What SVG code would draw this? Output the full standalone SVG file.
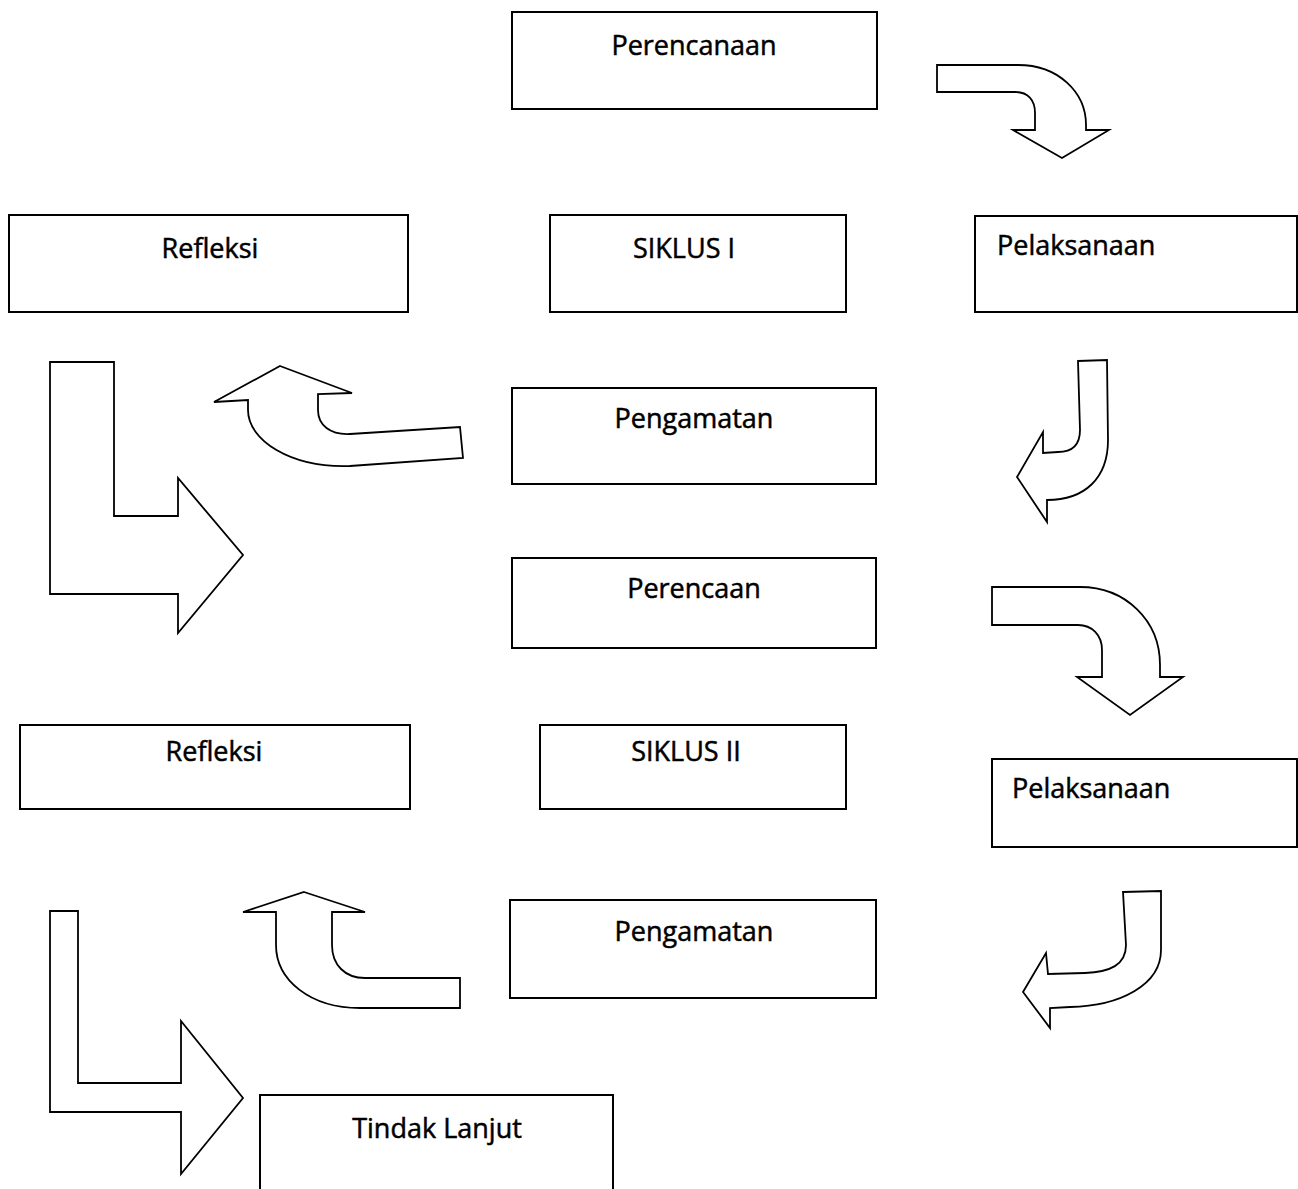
<svg xmlns="http://www.w3.org/2000/svg" width="1298" height="1189" viewBox="0 0 1298 1189">
<style>
.box{fill:#fff;stroke:#000;stroke-width:2}
.arr{fill:#fff;stroke:#000;stroke-width:1.8;stroke-linejoin:miter}
.t{font-family:"Open Sans","Noto Sans",sans-serif;font-size:27px;fill:#000;stroke:#000;stroke-width:0.5}
.c{text-anchor:middle}
</style>
<rect width="1298" height="1189" fill="#fff"/>
<g id="connectors">
<path class="arr" d="M937,65 L1018,65 C1058,65 1086,92 1086,125 L1086,130 L1109,130 L1062,158 L1013,130 L1035,130 L1035,113 C1035,100 1028,92 1015,92 L937,92 Z"/>
<path class="arr" d="M1078,361 L1107,360 L1108,440 C1108,478 1085,500 1047,500 L1047,522 L1017,477 L1043,432 L1043,453 L1058,452 C1072,452 1080,445 1080,430 Z"/>
<path class="arr" d="M280,366 L352,393 L318,394 L318,410 C318,425 330,435 350,434 L460,427 L463,458 L350,466 C290,468 248,440 248,410 L248,400 L214,402 Z"/>
<path class="arr" d="M50,362 L114,362 L114,516 L178,516 L178,478 L243,555 L178,633 L178,594 L50,594 Z"/>
<path class="arr" d="M992,587 L1080,587 C1125,587 1160,620 1160,665 L1160,677 L1183,677 L1130,715 L1077,677 L1102,677 L1102,650 C1102,635 1092,625 1078,625 L992,625 Z"/>
<path class="arr" d="M1123,892 L1161,891 L1161,950 C1161,985 1120,1006 1070,1007 L1050,1008 L1050,1028 L1023,992 L1046,953 L1048,974 L1085,973 C1110,972 1126,965 1126,945 Z"/>
<path class="arr" d="M304,892 L365,912 L332,912 L332,945 C332,965 345,978 365,978 L460,978 L460,1008 L360,1008 C310,1008 276,980 276,945 L276,912 L243,912 Z"/>
<path class="arr" d="M50,911 L78,911 L78,1083 L181,1083 L181,1021 L243,1098 L181,1174 L181,1112 L50,1112 Z"/>
</g>
<g id="perencanaan1"><rect class="box" x="512" y="12" width="365" height="97"/><text class="t c" x="694" y="55">Perencanaan</text></g>
<g id="refleksi1"><rect class="box" x="9" y="215" width="399" height="97"/><text class="t c" x="210" y="258">Refleksi</text></g>
<g id="siklus1"><rect class="box" x="550" y="215" width="296" height="97"/><text class="t c" x="684" y="258">SIKLUS I</text></g>
<g id="pelaksanaan1"><rect class="box" x="975" y="216" width="322" height="96"/><text class="t" x="997" y="255">Pelaksanaan</text></g>
<g id="pengamatan1"><rect class="box" x="512" y="388" width="364" height="96"/><text class="t c" x="694" y="428">Pengamatan</text></g>
<g id="perencaan2"><rect class="box" x="512" y="558" width="364" height="90"/><text class="t c" x="694" y="598">Perencaan</text></g>
<g id="refleksi2"><rect class="box" x="20" y="725" width="390" height="84"/><text class="t c" x="214" y="761">Refleksi</text></g>
<g id="siklus2"><rect class="box" x="540" y="725" width="306" height="84"/><text class="t c" x="686" y="761">SIKLUS II</text></g>
<g id="pelaksanaan2"><rect class="box" x="992" y="759" width="305" height="88"/><text class="t" x="1012" y="798">Pelaksanaan</text></g>
<g id="pengamatan2"><rect class="box" x="510" y="900" width="366" height="98"/><text class="t c" x="694" y="941">Pengamatan</text></g>
<g id="tindaklanjut"><rect class="box" x="260" y="1095" width="353" height="110"/><text class="t c" x="437" y="1138">Tindak Lanjut</text></g>
</svg>
